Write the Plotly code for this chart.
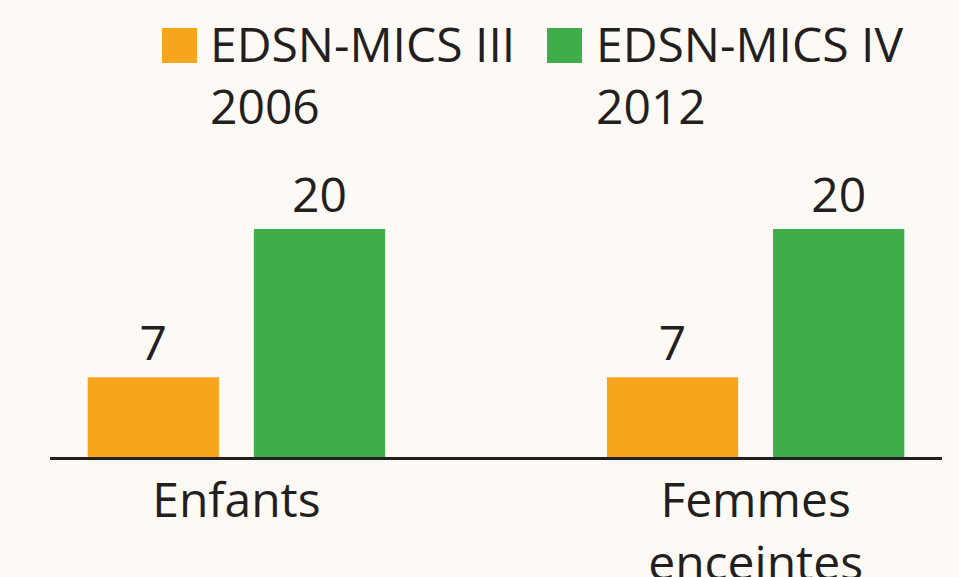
import plotly.graph_objects as go

categories = ["Enfants", "Femmes<br>enceintes"]
series_names = ["EDSN-MICS III<br>2006", "EDSN-MICS IV<br>2012"]
values_2006 = [7, 7]
values_2012 = [20, 20]
colors = ["#F7A51D", "#3FAE4A"]

W, H = 959, 577
L, R, T, B = 50, 17, 172, 120
PW, PH = W - L - R, H - T - B

def px(x):
    return (x - L) / PW

def py(y):
    return (H - B - y) / PH

FONT = "Open Sans"
TXT = "#231F20"
BG = "#FDFAF5"

fig = go.Figure()
for name, vals, col in zip(series_names, [values_2006, values_2012], colors):
    fig.add_trace(go.Bar(
        x=categories, y=vals, name=name, marker=dict(color=col, line=dict(width=0)),
        text=[str(v) for v in vals], textposition="outside",
        textfont=dict(family=FONT, size=48, color=TXT), cliponaxis=False,
        showlegend=False,
    ))

# manual legend
leg = [(162, 208), (547, 594)]
shapes, annotations = [], []
for (sx, tx), name, col in zip(leg, series_names, colors):
    shapes.append(dict(type="rect", xref="paper", yref="paper",
                       x0=px(sx), x1=px(sx + 35), y0=py(63), y1=py(28),
                       fillcolor=col, line=dict(width=0)))
    annotations.append(dict(xref="paper", yref="paper", x=px(tx), y=py(9),
                            xanchor="left", yanchor="top", align="left",
                            text=name, showarrow=False,
                            font=dict(family=FONT, size=48, color=TXT)))

fig.update_layout(
    width=W, height=H, margin=dict(l=L, r=R, t=T, b=B, autoexpand=False),
    paper_bgcolor=BG, plot_bgcolor=BG,
    barmode="group", bargap=0.36, bargroupgap=0.21,
    shapes=shapes, annotations=annotations,
    font=dict(family=FONT, color=TXT),
    xaxis=dict(range=[-0.359, 1.359], showline=True, linecolor=TXT, linewidth=2.5,
               ticks="", showgrid=False, zeroline=False, automargin=False,
               tickfont=dict(family=FONT, size=48, color=TXT)),
    yaxis=dict(range=[0, 25], visible=False, showgrid=False, zeroline=False,
               automargin=False),
)

fig.write_html("out.html", config={"displayModeBar": False},
               post_script="document.body.style.margin='0';document.body.style.background='%s';" % BG)
